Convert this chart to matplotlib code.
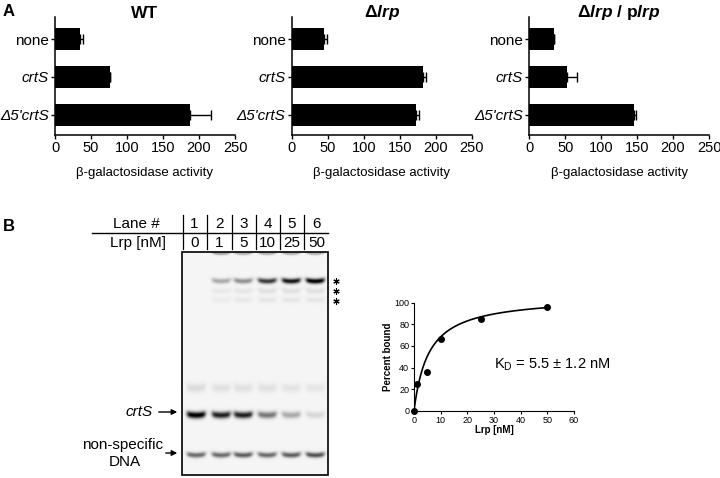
import numpy as np
import matplotlib.pyplot as plt
from matplotlib.patches import Rectangle

plt.rcParams['font.family'] = ['Liberation Sans', 'DejaVu Sans']
plt.rcParams['mathtext.fontset'] = 'custom'
plt.rcParams['mathtext.rm'] = 'Liberation Sans'
plt.rcParams['mathtext.it'] = 'Liberation Sans:italic'
plt.rcParams['mathtext.bf'] = 'Liberation Sans:bold'
plt.rcParams['mathtext.bfit'] = 'Liberation Sans:bold:italic'

# ---- panel A: beta-galactosidase activity ----
constructs = ['none', 'crtS', "Δ5'crtS"]
strain_titles = ['WT', r'Δ$\mathbfit{lrp}$', r'Δ$\mathbfit{lrp}$ / p$\mathbfit{lrp}$']
wt_vals = [35, 76, 187]
wt_err = [3.5, 0, 29]
lrp_vals = [45, 182, 172]
lrp_err = [4.5, 4, 5]
comp_vals = [35, 53, 145]
comp_err = [0, 14, 4]

# ---- panel B: EMSA ----
lanes = ['1', '2', '3', '4', '5', '6']
lrp_nM = ['0', '1', '5', '10', '25', '50']
# band rows: well, shifted, 2 faint supershifts, smear, free crtS, non-specific
band_names = ['well', 'shift', 'ss1', 'ss2', 'smear', 'crtS', 'nonspec']
band_amp = [
    [0.00, 0.35, 0.30, 0.30, 0.30, 0.30],
    [0.00, 0.30, 0.40, 0.75, 0.90, 1.00],
    [0.00, 0.05, 0.06, 0.08, 0.08, 0.08],
    [0.00, 0.04, 0.05, 0.06, 0.06, 0.06],
    [0.10, 0.08, 0.08, 0.08, 0.07, 0.06],
    [1.00, 0.85, 0.85, 0.50, 0.30, 0.12],
    [0.55, 0.55, 0.60, 0.55, 0.60, 0.65],
]

conc = [0, 1, 5, 10, 25, 50]
pct_bound = [0, 25, 36, 66, 85, 96]
kd = 5.5
bmax = 106

W, H = 720, 478
fig = plt.figure(figsize=(W / 100, H / 100), dpi=100)

# overlay in pixel coordinates for labels, gel and lane table
ov = fig.add_axes([0, 0, 1, 1])
ov.set_axis_off()


def px_rect(x0, y0, x1, y1):
    return [x0 / W, 1 - y1 / H, (x1 - x0) / W, (y1 - y0) / H]


bar_axes = [(55, 235), (291.7, 471.7), (529.3, 709)]
all_vals = [wt_vals, lrp_vals, comp_vals]
all_err = [wt_err, lrp_err, comp_err]
ypos = np.arange(len(constructs))
for (x0, x1), vals, err, title in zip(bar_axes, all_vals, all_err, strain_titles):
    ax = fig.add_axes(px_rect(x0, 17, x1, 135))
    ax.patch.set_alpha(0)
    ax.barh(ypos, vals, height=0.6, color='black',
            xerr=[np.zeros(len(err)), err], capsize=3.5,
            error_kw=dict(elinewidth=1, capthick=1, ecolor='black'))
    ax.set_xlim(0, 250)
    ax.set_ylim(2.53, -0.58)
    ax.set_xticks([0, 50, 100, 150, 200, 250])
    ax.set_yticks(ypos)
    ax.set_yticklabels(constructs)
    for lab in ax.get_yticklabels()[1:]:
        lab.set_style('italic')
    ax.tick_params(labelsize=10.5, length=3, width=1, pad=1.5)
    ax.tick_params(axis='y', labelsize=11)
    for s in ['top', 'right']:
        ax.spines[s].set_visible(False)
    for s in ['left', 'bottom']:
        ax.spines[s].set_linewidth(1.1)
    cx = (x0 + x1) / 2
    fig.text(cx / W, 1 - 13 / H, title, ha='center', va='center', fontsize=12.5, fontweight='bold')
    fig.text(cx / W, 1 - 173 / H, 'β-galactosidase activity', ha='center', va='center', fontsize=9.5)

fig.text(9 / W, 1 - 12 / H, 'A', ha='center', va='center', fontsize=12, fontweight='bold')
fig.text(9 / W, 1 - 226 / H, 'B', ha='center', va='center', fontsize=12, fontweight='bold')

# ---- gel image ----
gx0, gx1, gy0, gy1 = 182, 328, 252, 475
lane_x = [196, 221, 243, 267, 291, 315]
band_y = [253.5, 281, 291, 300, 388, 415, 455]
band_sig = [1.0, 1.8, 2.0, 2.0, 3.0, 2.3, 1.8]
xs = np.arange(gx0, gx1, 0.5)
ys = np.arange(gy0, gy1, 0.5)
X, Y = np.meshgrid(xs, ys)
img = np.full(X.shape, 0.04)
for li, lx in enumerate(lane_x):
    prof = 1 / (1 + np.exp((np.abs(X - lx) - 9) / 1.0))
    bend = 0.015 * (X - lx) ** 2
    for bi in range(len(band_y)):
        a = band_amp[bi][li]
        if a == 0:
            continue
        img += a * prof * np.exp(-0.5 * ((Y - band_y[bi] + bend) / band_sig[bi]) ** 2)
img = np.clip(img, 0, 1)
ov.imshow(img, cmap='gray_r', vmin=0, vmax=1, extent=(gx0, gx1, gy1, gy0),
          aspect='auto', interpolation='bilinear')
ov.add_patch(Rectangle((gx0, gy0), gx1 - gx0, gy1 - gy0, fill=False,
                       edgecolor='black', lw=1.2))
ov.plot([336, 336, 336], [281, 291, 301], linestyle='none', marker=(6, 2, 0),
        ms=4.5, mew=0.8, color='black')

# lane table
ov.plot([92, 328], [233.3, 233.3], color='black', lw=1)
for vx in [182.7, 206.7, 231.7, 256, 280, 304]:
    ov.plot([vx, vx], [215, 249], color='black', lw=0.9)
ov.text(136.5, 224.3, 'Lane #', ha='center', va='center', fontsize=11)
ov.text(137.5, 242.7, 'Lrp [nM]', ha='center', va='center', fontsize=11)
lab_x = [194.5, 219, 243.5, 267.5, 292, 316.5]
for lx, ln, cn in zip(lab_x, lanes, lrp_nM):
    ov.text(lx, 224.3, ln, ha='center', va='center', fontsize=11)
    ov.text(lx, 242.7, cn, ha='center', va='center', fontsize=11)

# band labels
ov.text(139, 411.7, 'crtS', ha='center', va='center', fontsize=11, style='italic')
ov.annotate('', xy=(180, 412), xytext=(156, 412),
            arrowprops=dict(arrowstyle='-|>', color='black', lw=1, mutation_scale=8))
ov.text(123, 445, 'non-specific', ha='center', va='center', fontsize=11)
ov.text(125, 462, 'DNA', ha='center', va='center', fontsize=11)
ov.annotate('', xy=(180, 453), xytext=(163, 453),
            arrowprops=dict(arrowstyle='-|>', color='black', lw=1, mutation_scale=8))

ov.set_xlim(0, W)
ov.set_ylim(H, 0)

# ---- binding curve ----
bx = fig.add_axes(px_rect(414, 302.7, 574, 410.7))
bx.patch.set_alpha(0)
xfit = np.linspace(0, 50, 200)
bx.plot(xfit, bmax * xfit / (kd + xfit), color='black', lw=1.2)
bx.plot(conc, pct_bound, 'o', color='black', ms=4, clip_on=False)
bx.set_xlim(0, 60)
bx.set_ylim(0, 100)
bx.set_xticks([0, 10, 20, 30, 40, 50, 60])
bx.set_yticks([0, 20, 40, 60, 80, 100])
bx.tick_params(labelsize=6.5, length=2.5, width=0.8, pad=1)
for s in ['top', 'right']:
    bx.spines[s].set_visible(False)
bx.set_xlabel('Lrp [nM]', fontsize=7, fontweight='bold', labelpad=0)
bx.set_ylabel('Percent bound', fontsize=7, fontweight='bold', labelpad=1)
fig.text(552 / W, 1 - 365 / H, r'K$_\mathregular{D}$ = 5.5 ± 1.2 nM', ha='center', va='center', fontsize=10.5)

fig.savefig('out.png', dpi=100)
